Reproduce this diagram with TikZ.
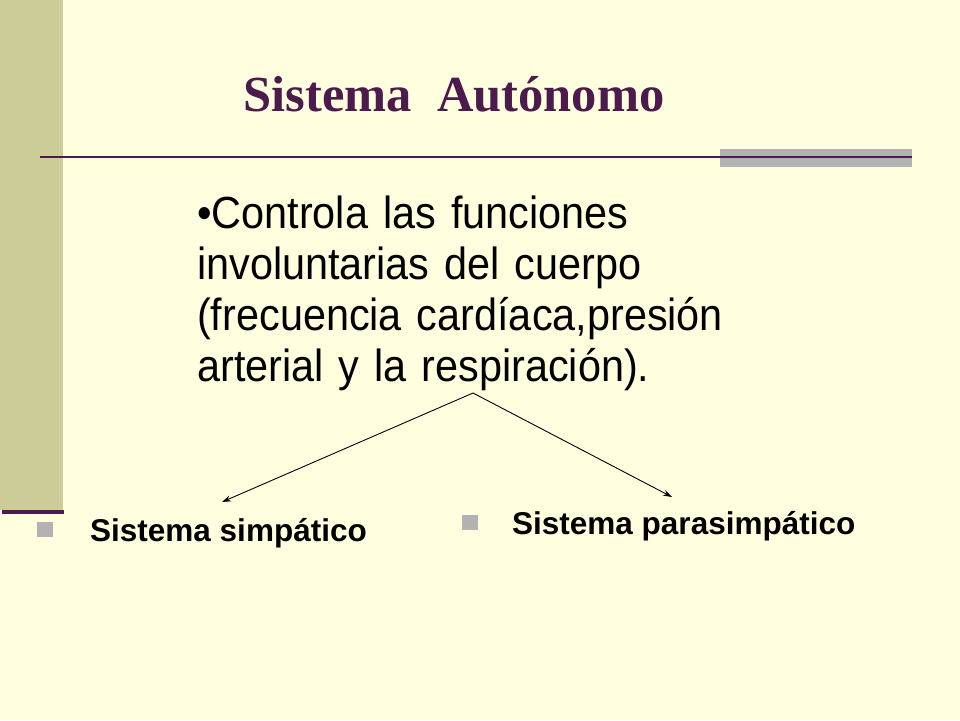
\documentclass[tikz,border=0pt]{standalone}
\usepackage{fontspec}
\setmainfont{Liberation Sans}
\newfontfamily\titlefont{Liberation Serif}
\newfontfamily\narrowfont[FakeStretch=0.92]{Liberation Sans}
\usetikzlibrary{arrows.meta}
\definecolor{bg}{HTML}{FFFFE0}
\definecolor{olive}{HTML}{CCCC99}
\definecolor{plum}{HTML}{4D1A4D}
\definecolor{grayb}{HTML}{B2B2B2}
\begin{document}
\begin{tikzpicture}[x=1pt,y=-1pt,
  conn/.style={-{Stealth[length=9pt,width=6pt]},line width=0.9pt,black},
  body/.style={anchor=base west,inner sep=0pt,font=\narrowfont\fontsize{45}{51}\selectfont,align=left},
  sub/.style={anchor=base west,inner sep=0pt,font=\fontsize{31.5}{34}\selectfont\bfseries}]
\fill[bg] (0,0) rectangle (960,720);
\useasboundingbox (0,0) rectangle (960,720);
\fill[olive] (0,0) rectangle (63,510);
\fill[plum] (2,510) rectangle (64,514);
\fill[grayb] (720,149) rectangle (912,167);
\fill[plum] (40,156) rectangle (912,158);
\node[anchor=base,inner sep=0pt,text=plum,font=\fontsize{50.5}{56}\selectfont\titlefont\bfseries] (title) at (454,111) {Sistema\ \ Autónomo};
\node[body,text width=700pt] (txt) at (197,228) {•Controla las funciones\\involuntarias del cuerpo\\(frecuencia cardíaca,presión\\arterial y la respiración).};
\coordinate (top) at (473,393);
\fill[grayb] (37,522) rectangle (53,537) ;
\fill[grayb] (462,515) rectangle (478,530);
\node[sub] (sim) at (90,541) {Sistema simpático};
\node[sub] (para) at (512,534) {Sistema parasimpático};
\coordinate (a1) at (222,502);
\coordinate (a2) at (672,497);
\draw[conn] (top) -- (a1);
\draw[conn] (top) -- (a2);
\end{tikzpicture}
\end{document}
